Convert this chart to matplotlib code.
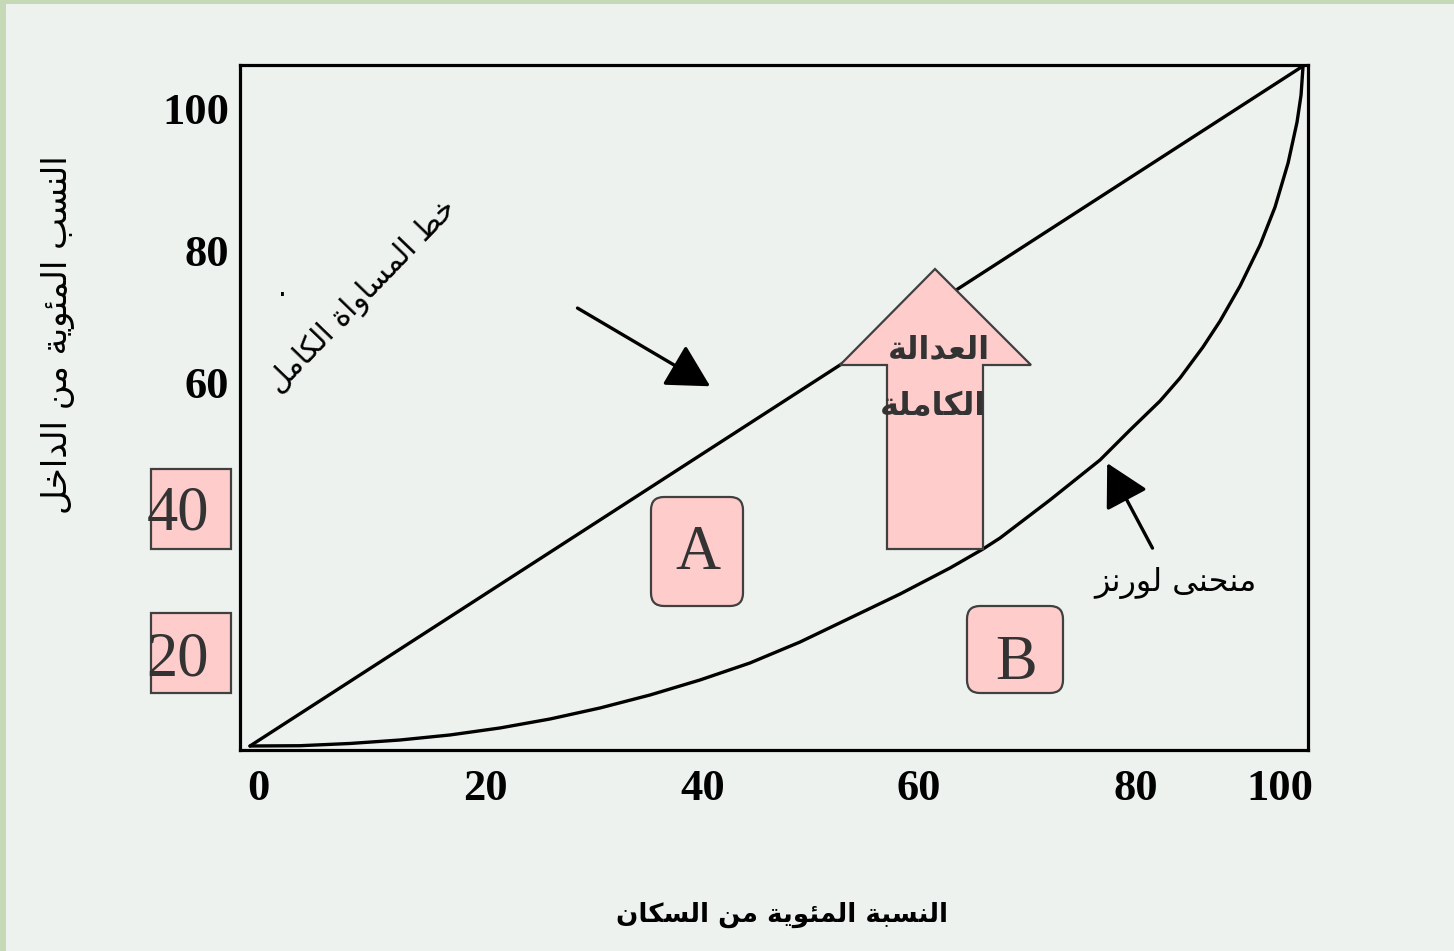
import matplotlib
matplotlib.use("Agg")
import matplotlib.pyplot as plt
import matplotlib.patches as mpatches
from matplotlib.transforms import IdentityTransform, ScaledTranslation

# ---------------- data ----------------
population_pct = [0, 4.75, 9.50, 14.25, 18.99, 23.74, 28.49, 33.24, 37.99, 42.74, 47.48,
                  52.23, 56.98, 61.73, 66.48, 69.61, 71.23, 75.97, 80.72, 83.57, 86.42,
                  88.32, 90.50, 92.12, 94.02, 95.92, 97.34, 98.58, 99.43, 99.81, 100]
income_pct     = [0, 0.04, 0.37, 0.88, 1.62, 2.65, 3.97, 5.59, 7.50, 9.71, 12.21,
                  15.29, 18.82, 22.35, 26.18, 28.97, 30.59, 36.18, 42.06, 46.47, 50.74,
                  54.12, 58.68, 62.50, 67.65, 73.68, 79.26, 85.74, 91.76, 95.74, 100]
equality_x = [0, 100]
equality_y = [0, 100]

x_tick_labels = ["0", "20", "40", "60", "80", "100"]
y_tick_labels = ["20", "40", "60", "80", "100"]
boxed_y_labels = ["20", "40"]

xlabel_text = "النسبة المئوية من السكان"
ylabel_text = "النسب المئوية من الداخل"
equality_text = "خط المساواة الكامل"
lorenz_text = "منحنى لورنز"
justice_lines = ["العدالة", "الكاملة"]
area_labels = ["A", "B"]

# ---------------- Arabic shaping (presentation forms) ----------------
FORMS = {
    'ا': ('\uFE8D', '\uFE8E', None, None),
    'ب': ('\uFE8F', '\uFE90', '\uFE91', '\uFE92'),
    'ة': ('\uFE93', '\uFE94', None, None),
    'ت': ('\uFE95', '\uFE96', '\uFE97', '\uFE98'),
    'ح': ('\uFEA1', '\uFEA2', '\uFEA3', '\uFEA4'),
    'خ': ('\uFEA5', '\uFEA6', '\uFEA7', '\uFEA8'),
    'د': ('\uFEA9', '\uFEAA', None, None),
    'ر': ('\uFEAD', '\uFEAE', None, None),
    'ز': ('\uFEAF', '\uFEB0', None, None),
    'س': ('\uFEB1', '\uFEB2', '\uFEB3', '\uFEB4'),
    'ط': ('\uFEC1', '\uFEC2', '\uFEC3', '\uFEC4'),
    'ع': ('\uFEC9', '\uFECA', '\uFECB', '\uFECC'),
    'ك': ('\uFED9', '\uFEDA', '\uFEDB', '\uFEDC'),
    'ل': ('\uFEDD', '\uFEDE', '\uFEDF', '\uFEE0'),
    'م': ('\uFEE1', '\uFEE2', '\uFEE3', '\uFEE4'),
    'ن': ('\uFEE5', '\uFEE6', '\uFEE7', '\uFEE8'),
    'و': ('\uFEED', '\uFEEE', None, None),
    'ى': ('\uFEEF', '\uFEF0', None, None),
    'ي': ('\uFEF1', '\uFEF2', '\uFEF3', '\uFEF4'),
    'ئ': ('\uFE89', '\uFE8A', '\uFE8B', '\uFE8C'),
}


def shape(s):
    chars = list(s)
    out = []
    i = 0
    n = len(chars)
    while i < n:
        c = chars[i]
        if c not in FORMS:
            out.append(c)
            i += 1
            continue
        prev = chars[i - 1] if i > 0 else None
        join_prev = prev in FORMS and FORMS[prev][2] is not None
        if c == 'ل' and i + 1 < n and chars[i + 1] == 'ا':
            out.append('\uFEFC' if join_prev else '\uFEFB')
            i += 2
            continue
        nxt = chars[i + 1] if i + 1 < n else None
        iso, fin, ini, med = FORMS[c]
        join_next = ini is not None and nxt in FORMS
        if join_prev and join_next:
            f = med
        elif join_prev:
            f = fin
        elif join_next:
            f = ini
        else:
            f = iso
        out.append(f)
        i += 1
    return ''.join(reversed(out))


# ---------------- figure ----------------
W, H = 1454, 951
fig = plt.figure(figsize=(W / 100, H / 100), dpi=100)
fig.patch.set_facecolor('#c6d9b6')
inner = '#eef2ee'
fig.add_artist(mpatches.Rectangle((6, 0), W, H - 4, transform=IdentityTransform(),
                                  facecolor=inner, edgecolor='none', zorder=-5))


def fx(x):
    return x / W


def fy(y):
    return 1 - y / H


# axes frame: left 240, right 1308, top 65, bottom 750 (pixels)
ax = fig.add_axes([fx(240), fy(750), (1308 - 240) / W, (750 - 65) / H])
ax.set_facecolor(inner)
ax.set_xlim(-0.95, 100.47)
ax.set_ylim(-0.59, 100.15)
for sp in ax.spines.values():
    sp.set_linewidth(2.3)
    sp.set_color('black')

arabic = ['DejaVu Sans']
serif = ['Liberation Serif', 'DejaVu Serif']

# curves
ax.plot(equality_x, equality_y, color='black', lw=2.4, solid_capstyle='round', zorder=3)
ax.plot(population_pct, income_pct, color='black', lw=2.4, solid_capstyle='round',
        solid_joinstyle='round', zorder=3)

# ticks
x_tick_pos = [0.76, 22.4, 43.0, 63.5, 84.1, 97.8]
y_tick_pos = [13.6, 35.0, 53.5, 72.9, 93.8]
ax.set_xticks(x_tick_pos, x_tick_labels)
ax.set_yticks(y_tick_pos, y_tick_labels)
ax.tick_params(axis='both', length=0)
ax.tick_params(axis='x', pad=14)
ax.tick_params(axis='y', pad=8)
for lab in ax.get_xticklabels():
    lab.set_fontfamily(serif)
    lab.set_fontweight('bold')
    lab.set_fontsize(32)
for lab in ax.get_yticklabels():
    lab.set_fontfamily(serif)
    if lab.get_text() in boxed_y_labels:
        lab.set_fontweight('normal')
        lab.set_fontsize(45)
        lab.set_color('#333333')
        lab.set_transform(lab.get_transform() + ScaledTranslation(-20 / 100, 0, fig.dpi_scale_trans))
    else:
        lab.set_fontweight('bold')
        lab.set_fontsize(32)

# pink boxes behind 40 / 20
for top in (469, 613):
    fig.add_artist(mpatches.Rectangle((151, H - top - 80), 80, 80, transform=IdentityTransform(),
                                      facecolor='#ffcccc', edgecolor='#404040', lw=1.6, zorder=-1))

# rounded boxes A and B
for (x0, y0, x1, y1, ty), lab in zip([(651, 497, 743, 606, 554), (967, 606, 1063, 693, 664)],
                                     area_labels):
    fig.add_artist(mpatches.FancyBboxPatch((x0, H - y1), x1 - x0, y1 - y0,
                                           boxstyle='round,pad=0,rounding_size=13',
                                           transform=IdentityTransform(),
                                           facecolor='#ffcccc', edgecolor='#404040', lw=1.6, zorder=4))
    fig.text(fx((x0 + x1) / 2 + 1), fy(ty), lab, family=serif, fontsize=45,
             color='#333333', ha='center', va='center', zorder=5)

# big block arrow (perfect equality direction)
arrow_px = [(935, 269), (1031, 365), (983, 365), (983, 549), (887, 549), (887, 365), (840, 365)]
fig.add_artist(mpatches.Polygon([(x, H - y) for x, y in arrow_px], closed=True,
                                transform=IdentityTransform(), facecolor='#ffcccc',
                                edgecolor='#404040', lw=1.6, zorder=4))
fig.text(fx(939), fy(350), shape(justice_lines[0]), family=arabic, fontweight='bold',
         fontsize=23, color='#333333', ha='center', va='center', zorder=6)
fig.text(fx(933), fy(407), shape(justice_lines[1]), family=arabic, fontweight='bold',
         fontsize=23, color='#333333', ha='center', va='center', zorder=6)

# pointer arrows
ax.annotate('', xy=(43.7, 52.9), xytext=(31.1, 64.4),
            arrowprops=dict(arrowstyle='-|>,head_length=0.55,head_width=0.3', lw=2.4,
                            color='black', mutation_scale=48, shrinkA=0, shrinkB=0))
ax.annotate('', xy=(81.4, 41.6), xytext=(85.7, 29.1),
            arrowprops=dict(arrowstyle='-|>,head_length=0.55,head_width=0.3', lw=2.4,
                            color='black', mutation_scale=48, shrinkA=0, shrinkB=0))

# annotations
fig.text(fx(362), fy(296), shape(equality_text), family=arabic, fontsize=21.5, color='black',
         rotation=46, rotation_mode='anchor', ha='center', va='center')
fig.text(fx(282), fy(288), '.', family=arabic, fontsize=20, color='black', ha='center', va='center')
fig.text(fx(1175), fy(583), shape(lorenz_text), family=arabic, fontsize=23, color='black',
         ha='center', va='center')

# axis labels
fig.text(fx(58), fy(335), shape(ylabel_text), family=arabic, fontsize=24.5, color='black',
         rotation=90, ha='center', va='center')
fig.text(fx(782), fy(915), shape(xlabel_text), family=arabic, fontweight='bold', fontsize=18.8,
         color='black', ha='center', va='center')

fig.savefig('out.png', dpi=100, facecolor=fig.get_facecolor())
